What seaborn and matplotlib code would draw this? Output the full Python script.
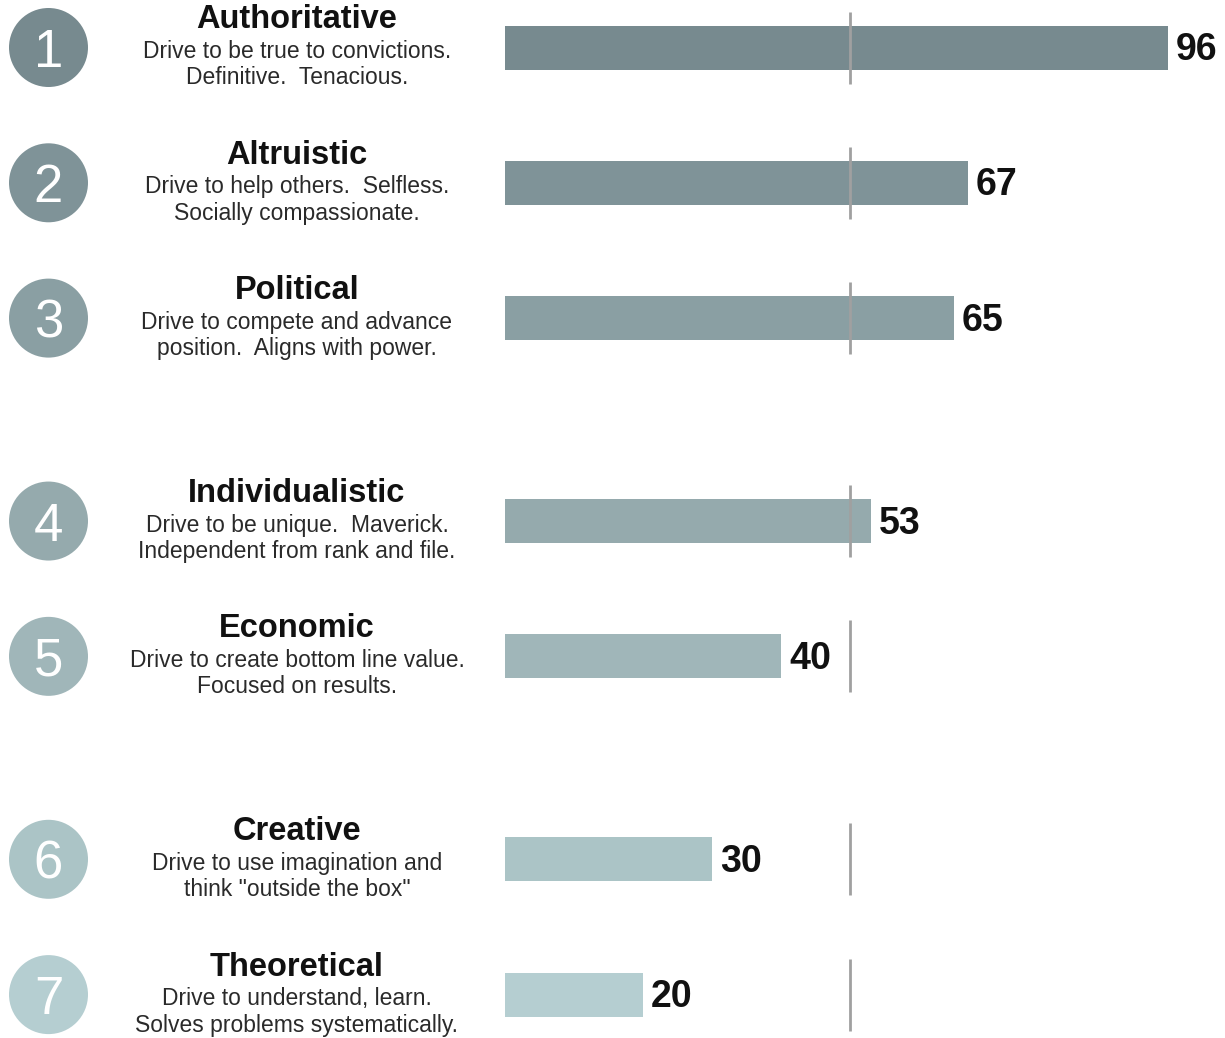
import matplotlib
matplotlib.use("Agg")
import matplotlib.pyplot as plt
import seaborn as sns
import pandas as pd

# ---- data ----
ranks = [1, 2, 3, 4, 5, 6, 7]
titles = ["Authoritative", "Altruistic", "Political", "Individualistic",
          "Economic", "Creative", "Theoretical"]
desc_line1 = ["Drive to be true to convictions.", "Drive to help others.  Selfless.",
              "Drive to compete and advance", "Drive to be unique.  Maverick.",
              "Drive to create bottom line value.", "Drive to use imagination and",
              "Drive to understand, learn."]
desc_line2 = ["Definitive.  Tenacious.", "Socially compassionate.",
              "position.  Aligns with power.", "Independent from rank and file.",
              "Focused on results.", "think \"outside the box\"",
              "Solves problems systematically."]
scores = [96, 67, 65, 53, 40, 30, 20]
row_pos = [0, 1, 2, 3.5, 4.5, 6, 7]
reference_value = 50
colors = ["#778a8f", "#7f9398", "#8a9fa3", "#95aaad", "#a0b6b9", "#abc4c6", "#b5ced1"]

sns.set_theme(style="white")
plt.rcParams['font.family'] = ['Liberation Sans', 'DejaVu Sans']

W, H = 1225, 1038
fig = plt.figure(figsize=(W / 100, H / 100), dpi=100)
ax = fig.add_axes([0, 0, 1, 1])

x0_px, px_per_unit = 505, (1168 - 505) / 96.0
y0_px, row_px = 47.5, 135.3

def xd(px):
    return (px - x0_px) / px_per_unit

def yo(px):
    return px / row_px

df = pd.DataFrame({"score": scores, "pos": row_pos, "title": titles})
sns.barplot(data=df, x="score", y="pos", hue="pos", palette=colors, orient="h",
            native_scale=True, width=44 / row_px, legend=False, ax=ax,
            saturation=1, edgecolor="none", linewidth=0)

ax.set_xlim(xd(0), xd(W))
ax.set_ylim((H - y0_px) / row_px, -y0_px / row_px)
ax.axis("off")

half = yo(36)
for i, p in enumerate(row_pos):
    ax.plot([reference_value, reference_value], [p - half, p + half],
            color="#a0a0a0", lw=2.0, zorder=5, solid_capstyle="butt")
    ax.text(scores[i] + xd(x0_px + 8), p + yo(12.5), str(scores[i]), ha="left",
            va="baseline", fontsize=27, fontweight="bold", color="#111111")
    ax.scatter([xd(48.5)], [p], s=(79 * 0.72) ** 2, color=colors[i], zorder=3,
               edgecolors="none")
    ax.text(xd(48.5), p + yo(19.5), str(ranks[i]), ha="center", va="baseline",
            fontsize=38, color="white", zorder=4)
    ax.text(xd(297), p - yo(19), titles[i], ha="center", va="baseline",
            fontsize=23.5, fontweight="bold", color="#111111")
    ax.text(xd(297), p + yo(10.5), desc_line1[i], ha="center", va="baseline",
            fontsize=16.5, color="#2a2a2a")
    ax.text(xd(297), p + yo(37), desc_line2[i], ha="center", va="baseline",
            fontsize=16.5, color="#2a2a2a")

fig.savefig("out.png", dpi=100)
